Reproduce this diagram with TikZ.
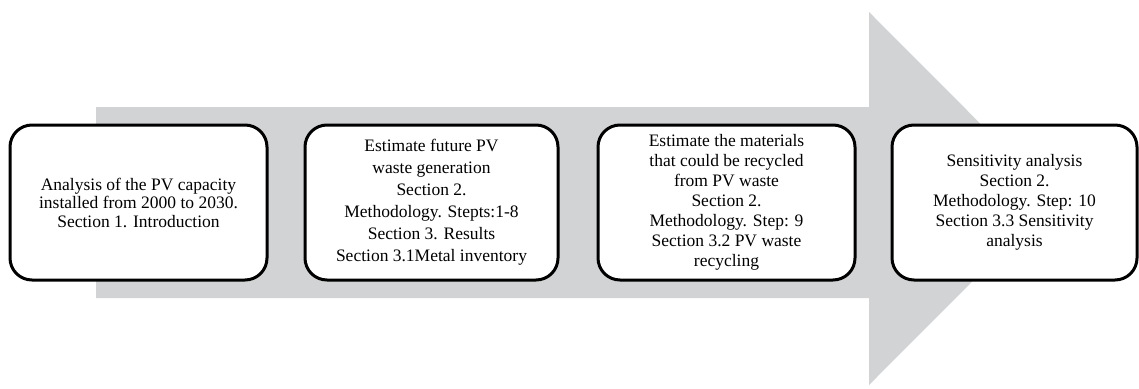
\documentclass[tikz,border=0pt]{standalone}
\usepackage{fontspec}
\setmainfont{Liberation Serif}
\usetikzlibrary{positioning}
\definecolor{FlowGray}{HTML}{D1D3D4}

\begin{document}
\begin{tikzpicture}[x=1pt, y=-1pt,
    stagebox/.style={draw=black, line width=3pt, fill=white, rounded corners=22pt,
        minimum height=155pt, align=center, inner sep=0pt,
        font=\fontsize{17.5}{20}\selectfont}]

    % ========== Canvas ==========
    \useasboundingbox (0,0) rectangle (1139,388);

    % ========== Big background arrow ==========
    \fill[FlowGray] (96,107) -- (869,107) -- (869,12) -- (1055,198.5)
        -- (869,385) -- (869,298) -- (96,298) -- cycle;

    % ========== Stages ==========
    \node[stagebox, minimum width=257pt, font=\fontsize{17.5}{18.5}\selectfont] (analysis) at (138.5,202.5)
        {Analysis of the PV capacity\\installed from 2000 to 2030.\\Section 1. Introduction};

    \node[stagebox, minimum width=253pt, font=\fontsize{17.5}{22}\selectfont] (waste) at (431.5,202.5)
        {Estimate future PV\\waste generation\\Section 2.\\Methodology. Stepts:1-8\\Section 3. Results\\Section 3.1Metal inventory};

    \node[stagebox, minimum width=257pt] (recycle) at (726.5,202.5)
        {Estimate the materials\\that could be recycled\\from PV waste\\Section 2.\\Methodology. Step: 9\\Section 3.2 PV waste\\recycling};

    \node[stagebox, minimum width=245pt] (sensitivity) at (1014.5,202.5)
        {Sensitivity analysis\\Section 2.\\Methodology. Step: 10\\Section 3.3 Sensitivity\\analysis};

\end{tikzpicture}
\end{document}
